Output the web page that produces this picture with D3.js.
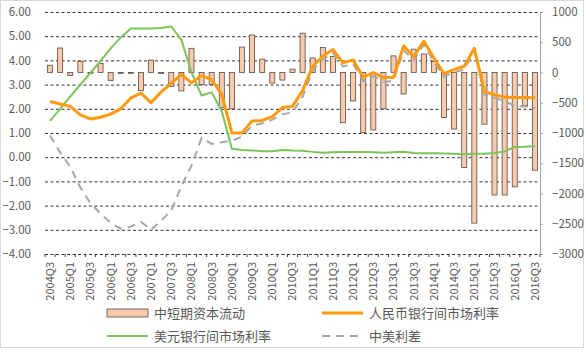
<!DOCTYPE html>
<html>
<head>
<meta charset="utf-8">
<script src="https://cdn.jsdelivr.net/npm/d3@7"></script>
<style>
  body { margin: 0; background: #fff; }
  #chart { width: 586px; height: 352px; }
  text { font-family: "Noto Sans CJK SC", "Noto Sans", sans-serif; fill: #595959; }
</style>
</head>
<body>
<div id="chart"></div>
<script>
// Quarter labels
const quarters = [
  "2004Q3", "2004Q4",
  "2005Q1", "2005Q2", "2005Q3", "2005Q4",
  "2006Q1", "2006Q2", "2006Q3", "2006Q4",
  "2007Q1", "2007Q2", "2007Q3", "2007Q4",
  "2008Q1", "2008Q2", "2008Q3", "2008Q4",
  "2009Q1", "2009Q2", "2009Q3", "2009Q4",
  "2010Q1", "2010Q2", "2010Q3", "2010Q4",
  "2011Q1", "2011Q2", "2011Q3", "2011Q4",
  "2012Q1", "2012Q2", "2012Q3", "2012Q4",
  "2013Q1", "2013Q2", "2013Q3", "2013Q4",
  "2014Q1", "2014Q2", "2014Q3", "2014Q4",
  "2015Q1", "2015Q2", "2015Q3", "2015Q4",
  "2016Q1", "2016Q2", "2016Q3"
];

// 中短期资本流动 (right axis)
const capitalFlow = [
  120, 405,
  -50, 185, -8, 150,
  -130, -8, -8, -300,
  205, -15, -230, -305,
  400, -200, -200, -580,
  -600, 420, 620, 220,
  -175, -125, 55, 650,
  240, 415, 265, -830,
  -470, -990, -950, -600,
  275, -355, 385, 305,
  185, -745, -935, -1570,
  -2490, -855, -2025, -2025,
  -1890, -550, -1615
];

// 人民币银行间市场利率 (left axis)
const rmbRate = [
  2.30, 2.20,
  2.10, 1.75, 1.58, 1.65,
  1.78, 2.00, 2.45, 2.65,
  2.25, 2.70, 3.05, 3.42,
  3.07, 3.37, 3.20, 2.60,
  1.00, 1.00, 1.50, 1.52,
  1.68, 2.05, 2.10, 2.75,
  3.75, 4.17, 4.45, 3.90,
  4.02, 3.30, 3.50, 3.28,
  3.30, 4.60, 4.15, 4.80,
  4.10, 3.45, 3.62, 3.76,
  4.50, 2.70, 2.58, 2.48,
  2.47, 2.47, 2.46
];

// 美元银行间市场利率 (left axis)
const usdRate = [
  1.50, 2.00,
  2.50, 3.00, 3.48, 3.98,
  4.50, 4.95, 5.32, 5.32,
  5.32, 5.34, 5.40, 4.85,
  3.50, 2.55, 2.68, 1.90,
  0.35, 0.30, 0.28, 0.25,
  0.25, 0.30, 0.28, 0.27,
  0.22, 0.18, 0.20, 0.22,
  0.22, 0.22, 0.20, 0.18,
  0.20, 0.22, 0.17, 0.16,
  0.16, 0.15, 0.14, 0.13,
  0.14, 0.14, 0.17, 0.24,
  0.42, 0.43, 0.45
];

// 中美利差 (left axis)
const spread = [
  0.90, 0.20,
  -0.40, -1.25, -1.90, -2.33,
  -2.72, -2.95, -2.87, -2.67,
  -3.00, -2.62, -2.20, -1.20,
  -0.35, 0.80, 0.55, 0.62,
  0.68, 0.85, 1.30, 1.40,
  1.55, 1.78, 1.85, 2.50,
  3.60, 4.05, 4.30, 3.75,
  3.85, 3.15, 3.35, 3.12,
  3.15, 4.42, 4.00, 4.65,
  3.95, 3.32, 3.50, 3.63,
  4.38, 2.60, 2.45, 2.32,
  2.12, 2.10, 2.03
];

const leftTicks = [-4, -3, -2, -1, 0, 1, 2, 3, 4, 5, 6];
const rightTicks = [-3000, -2500, -2000, -1500, -1000, -500, 0, 500, 1000];

// Plot area
const plot = { left: 45, right: 540, top: 12, bottom: 254 };
const width = 586;
const height = 352;

const svg = d3.select("#chart").append("svg")
  .attr("width", width)
  .attr("height", height);

// Chart border
svg.append("rect")
  .attr("x", 0.5)
  .attr("y", 0.5)
  .attr("width", 583)
  .attr("height", 347)
  .attr("fill", "#fff")
  .attr("stroke", "#d9d9d9");

const x = d3.scaleBand()
  .domain(quarters)
  .range([plot.left, plot.right]);

const yLeft = d3.scaleLinear()
  .domain([-4, 6])
  .range([plot.bottom, plot.top]);

const yRight = d3.scaleLinear()
  .domain([-3000, 1000])
  .range([plot.bottom, plot.top]);

// Gridlines
const grid = svg.append("g")
  .attr("transform", `translate(${plot.left},0)`)
  .call(d3.axisLeft(yLeft).tickValues(leftTicks).tickSize(-(plot.right - plot.left)).tickFormat(""));
grid.select(".domain").remove();
grid.selectAll("line")
  .attr("stroke", "#333333")
  .attr("stroke-dasharray", "3,2.5");

// Left axis labels
const leftAxis = svg.append("g")
  .attr("transform", `translate(${plot.left},0)`)
  .call(d3.axisLeft(yLeft).tickValues(leftTicks).tickSize(0).tickPadding(14).tickFormat(d3.format(".2f")));
leftAxis.select(".domain").remove();
leftAxis.selectAll("text")
  .style("font-size", "11.5px")
  .style("font-family", "'Noto Sans CJK SC', sans-serif")
  .attr("fill", "#595959");

// Right axis
const rightAxis = svg.append("g")
  .attr("transform", `translate(${plot.right},0)`)
  .call(d3.axisRight(yRight).tickValues(rightTicks).tickSize(3).tickPadding(9).tickSizeOuter(0).tickFormat(d3.format("d")));
rightAxis.select(".domain").attr("stroke", "#a6a6a6");
rightAxis.selectAll("line").attr("stroke", "#a6a6a6");
rightAxis.selectAll("text")
  .style("font-size", "11.5px")
  .style("font-family", "'Noto Sans CJK SC', sans-serif")
  .attr("fill", "#595959");

// Bottom axis: tick marks at category boundaries
svg.append("g")
  .selectAll("line")
  .data(quarters.concat(["end"]))
  .enter()
  .append("line")
  .attr("x1", (d, i) => plot.left + i * x.step())
  .attr("x2", (d, i) => plot.left + i * x.step())
  .attr("y1", plot.bottom)
  .attr("y2", plot.bottom + 3)
  .attr("stroke", "#404040");

const bottomAxis = svg.append("g")
  .attr("transform", `translate(0,${plot.bottom})`)
  .call(d3.axisBottom(x).tickValues(quarters.filter((d, i) => i % 2 === 0)).tickSize(0).tickPadding(0));
bottomAxis.select(".domain").remove();
bottomAxis.selectAll("text")
  .attr("transform", "rotate(-90)")
  .attr("x", -8)
  .attr("y", 0)
  .attr("dy", "0.35em")
  .style("text-anchor", "end")
  .style("font-size", "11px")
  .style("font-family", "'Noto Sans CJK SC', sans-serif")
  .attr("fill", "#595959");

// Capital flow bars
const barW = x.bandwidth() * 0.5;
svg.append("g")
  .selectAll("rect")
  .data(capitalFlow)
  .enter()
  .append("rect")
  .attr("x", (d, i) => x(quarters[i]) + (x.bandwidth() - barW) / 2)
  .attr("y", (d) => yRight(Math.max(0, d)))
  .attr("width", barW)
  .attr("height", (d) => Math.max(0.8, Math.abs(yRight(d) - yRight(0))))
  .attr("fill", "#f8cbad")
  .attr("stroke", "#5b4b43")
  .attr("stroke-width", 0.8);

const cx = (i) => x(quarters[i]) + x.bandwidth() / 2;

const line = d3.line()
  .x((d, i) => cx(i))
  .y((d) => yLeft(d));

// USD rate
svg.append("path")
  .datum(usdRate)
  .attr("fill", "none")
  .attr("stroke", "#7cc45a")
  .attr("stroke-width", 2)
  .attr("d", line);

// Spread
svg.append("path")
  .datum(spread)
  .attr("fill", "none")
  .attr("stroke", "#a6a6a6")
  .attr("stroke-width", 2)
  .attr("stroke-dasharray", "8,6")
  .attr("d", line);

// RMB rate
svg.append("path")
  .datum(rmbRate)
  .attr("fill", "none")
  .attr("stroke", "#ff9a0e")
  .attr("stroke-width", 3)
  .attr("stroke-linejoin", "round")
  .attr("d", line);

// Legend
const legendItems = [
  { name: "中短期资本流动", type: "bar", x: 107, y: 313 },
  { name: "人民币银行间市场利率", type: "orange", x: 322, y: 313 },
  { name: "美元银行间市场利率", type: "green", x: 107, y: 336 },
  { name: "中美利差", type: "dash", x: 322, y: 336 }
];

const legend = svg.append("g").attr("class", "legend");
legendItems.forEach((item) => {
  if (item.type === "bar") {
    legend.append("rect")
      .attr("x", item.x)
      .attr("y", item.y - 4)
      .attr("width", 41)
      .attr("height", 8)
      .attr("fill", "#f8cbad")
      .attr("stroke", "#5b4b43")
      .attr("stroke-width", 0.8);
  } else {
    legend.append("line")
      .attr("x1", item.x)
      .attr("x2", item.x + 41)
      .attr("y1", item.y)
      .attr("y2", item.y)
      .attr("stroke", item.type === "orange" ? "#ff9a0e" : item.type === "green" ? "#7cc45a" : "#a6a6a6")
      .attr("stroke-width", item.type === "orange" ? 3 : 2)
      .attr("stroke-dasharray", item.type === "dash" ? "8,6" : null);
  }
  legend.append("text")
    .attr("x", item.x + 47)
    .attr("y", item.y)
    .attr("dy", "0.35em")
    .style("font-size", "13px")
    .text(item.name);
});
</script>
</body>
</html>
